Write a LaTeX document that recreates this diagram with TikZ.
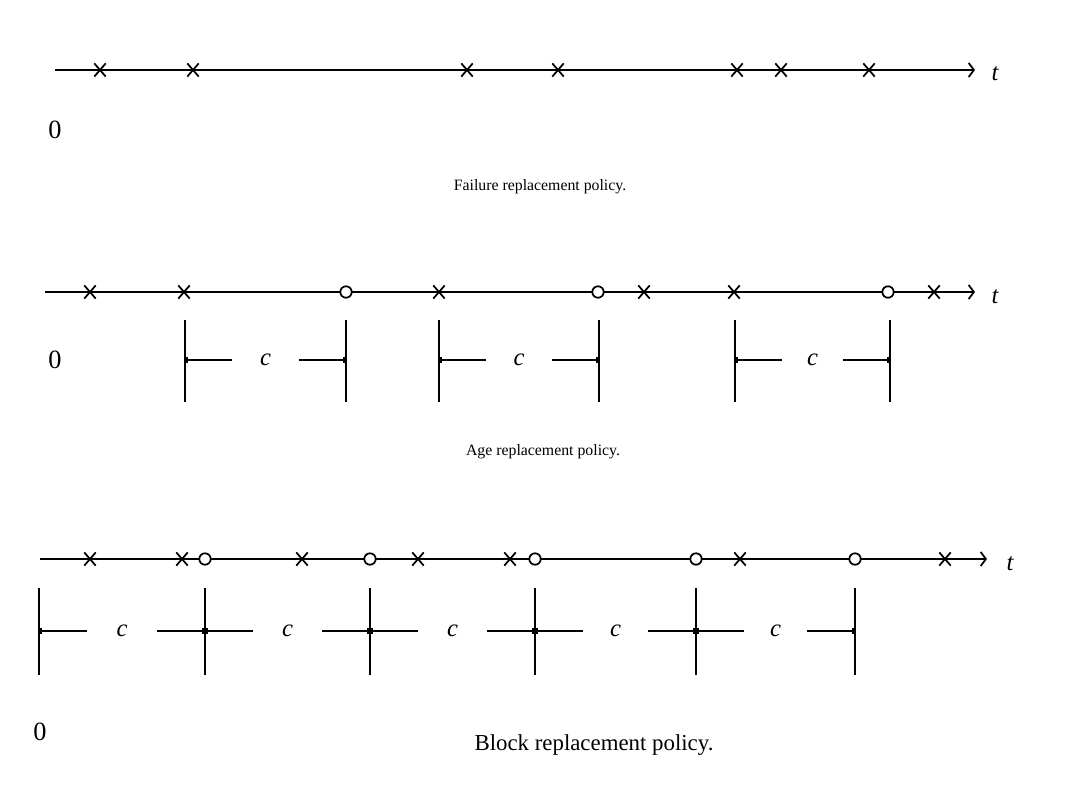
\documentclass[tikz,border=0pt]{standalone}
\usepackage{fontspec}
\setmainfont{Liberation Serif}
\usetikzlibrary{arrows.meta,positioning,shapes.misc}

\begin{document}
\begin{tikzpicture}[
    x=0.02cm, y=-0.02cm,
    axis/.style={line width=1pt, -{Straight Barb[length=3pt,width=8pt]}},
    fail/.style={cross out, draw, line width=1pt, minimum width=5.5pt, minimum height=6.5pt, inner sep=0pt},
    renew/.style={circle, draw, fill=white, line width=1pt, minimum size=6.5pt, inner sep=0pt},
    bar/.style={line width=1pt},
    dim/.style={line width=1pt, -{Rectangle[length=1.5pt,width=3pt]}},
    lbl/.style={font=\fontsize{14}{16}\selectfont\itshape},
    zero/.style={font=\fontsize{15}{17}\selectfont},
    caption/.style={font=\fontsize{9}{11}\selectfont}
]
\useasboundingbox (0,0) rectangle (1077,804);

% failure replacement
\coordinate (s1) at (55,70);
\coordinate (e1) at (975,70);
\draw[axis] (s1) -- (e1);
\node[lbl] (t1) at (995,74) {t};
\foreach \x [count=\i] in {100,193,467,558,737,781,869}
  \node[fail] (fa\i) at (\x,70) {};
\node[zero] (z1) at (55,130) {0};
\node[caption] (cap1) at (540,187) {Failure replacement policy.};

% age replacement
\coordinate (s2) at (45,292);
\coordinate (e2) at (975,292);
\draw[axis] (s2) -- (e2);
\node[lbl] (t2) at (995,297) {t};
\foreach \x [count=\i] in {90,184,439,644,734,934}
  \node[fail] (fb\i) at (\x,292) {};
\foreach \x [count=\i] in {346,598,888}
  \node[renew] (rb\i) at (\x,292) {};
\foreach \a/\b [count=\i] in {185/346,439/599,735/890} {
  \draw[bar] (\a,320) -- (\a,402);
  \draw[bar] (\b,320) -- (\b,402);
  \coordinate (ba\i) at (\a,360);
  \coordinate (bb\i) at (\b,360);
  \coordinate (pa\i) at (\a+47,360);
  \coordinate (pb\i) at (\b-47,360);
  \node[lbl] (cb\i) at ({(\a+\b)/2},360) {c};
  \draw[dim] (pa\i) -- (ba\i);
  \draw[dim] (pb\i) -- (bb\i);
}
\node[zero] (z2) at (55,360) {0};
\node[caption] (cap2) at (543,452) {Age replacement policy.};

% block replacement
\coordinate (s3) at (40,559);
\coordinate (e3) at (987,559);
\draw[axis] (s3) -- (e3);
\node[lbl] (t3) at (1010,564) {t};
\foreach \x [count=\i] in {90,182,302,418,510,740,945}
  \node[fail] (fc\i) at (\x,559) {};
\foreach \x [count=\i] in {205,370,535,696,855}
  \node[renew] (rc\i) at (\x,559) {};
\foreach \a/\b [count=\i] in {39/205,205/370,370/535,535/696,696/855} {
  \draw[bar] (\a,588) -- (\a,675);
  \coordinate (ca\i) at (\a,631);
  \coordinate (cb\i) at (\b,631);
  \coordinate (qa\i) at (\a+48,631);
  \coordinate (qb\i) at (\b-48,631);
  \node[lbl] (cc\i) at ({(\a+\b)/2},631) {c};
  \draw[dim] (qa\i) -- (ca\i);
  \draw[dim] (qb\i) -- (cb\i);
}
\draw[bar] (855,588) -- (855,675);
\node[zero] (z3) at (40,732) {0};
\node[caption, font=\fontsize{13}{15}\selectfont] (cap3) at (594,745) {Block replacement policy.};
\end{tikzpicture}
\end{document}
